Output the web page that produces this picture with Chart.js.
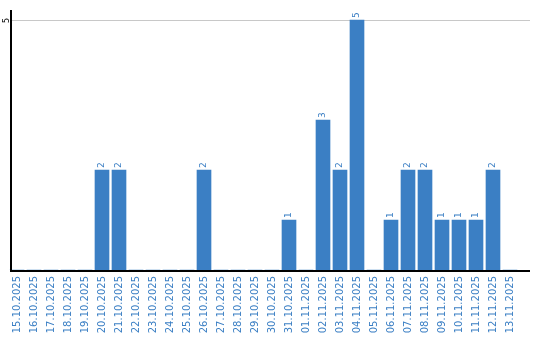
<!DOCTYPE html>
<html>
<head>
<meta charset="utf-8">
<script src="https://cdn.jsdelivr.net/npm/chart.js@4.4.1/dist/chart.umd.min.js"></script>
<style>
  body { margin: 0; background: #fff; }
  #wrap { width: 540px; height: 340px; }
</style>
</head>
<body>
<div id="wrap"><canvas id="chart" width="540" height="340"></canvas></div>
<script>
// datos del grafico
var dias = ['15.10.2025', '16.10.2025', '17.10.2025', '18.10.2025', '19.10.2025', '20.10.2025',
  '21.10.2025', '22.10.2025', '23.10.2025', '24.10.2025', '25.10.2025', '26.10.2025',
  '27.10.2025', '28.10.2025', '29.10.2025', '30.10.2025', '31.10.2025', '01.11.2025',
  '02.11.2025', '03.11.2025', '04.11.2025', '05.11.2025', '06.11.2025', '07.11.2025',
  '08.11.2025', '09.11.2025', '10.11.2025', '11.11.2025', '12.11.2025', '13.11.2025'];
var cantidades = [0, 0, 0, 0, 0, 2, 2, 0, 0, 0, 0, 2, 0, 0, 0, 0, 1, 0, 3, 2, 5, 0, 1, 2, 2, 1, 1, 1, 2, 0];
var ticksY = [5];

var azul = '#3b7fc4';

// Plugin para ejes, linea de 5 y etiquetas de valores
var extras = {
  id: 'extras',
  beforeDatasetsDraw: function(chart) {
    var ctx = chart.ctx, y = chart.scales.y, a = chart.chartArea;
    ctx.save();
    ctx.strokeStyle = '#c8c8c8';
    ctx.lineWidth = 1;
    ticksY.forEach(function(t) {
      var py = Math.round(y.getPixelForValue(t)) + 0.5;
      ctx.beginPath();
      ctx.moveTo(10, py);
      ctx.lineTo(530, py);
      ctx.stroke();
      ctx.save();
      ctx.translate(7, py);
      ctx.rotate(-Math.PI / 2);
      ctx.fillStyle = '#000';
      ctx.font = '8px "DejaVu Sans"';
      ctx.textAlign = 'center';
      ctx.textBaseline = 'middle';
      ctx.fillText(String(t), 0, 0);
      ctx.restore();
    });
    ctx.restore();
  },
  afterDatasetsDraw: function(chart) {
    var ctx = chart.ctx, a = chart.chartArea;
    var meta = chart.getDatasetMeta(0);
    ctx.save();
    ctx.fillStyle = azul;
    ctx.font = '9px "DejaVu Sans"';
    ctx.textAlign = 'left';
    ctx.textBaseline = 'middle';
    meta.data.forEach(function(bar, i) {
      if (!cantidades[i]) return;
      ctx.save();
      ctx.translate(bar.x, bar.y - 2);
      ctx.rotate(-Math.PI / 2);
      ctx.fillText(String(cantidades[i]), 0, 0);
      ctx.restore();
    });
    // ejes
    ctx.strokeStyle = '#000';
    ctx.lineWidth = 2;
    ctx.beginPath();
    ctx.moveTo(11, a.top);
    ctx.lineTo(11, a.bottom + 1);
    ctx.lineTo(530, a.bottom + 1);
    ctx.stroke();
    ctx.restore();
  }
};

new Chart(document.getElementById('chart'), {
  type: 'bar',
  data: {
    labels: dias,
    datasets: [{
      data: cantidades,
      backgroundColor: azul,
      barThickness: 14
    }]
  },
  options: {
    responsive: false,
    animation: false,
    events: [],
    layout: { padding: { left: 8.5, right: 21.5, top: 10, bottom: 0 } },
    plugins: { legend: { display: false }, tooltip: { enabled: false } },
    scales: {
      x: {
        grid: { display: false, drawTicks: false },
        border: { display: false },
        afterFit: function(scale) { scale.height = 70; },
        ticks: {
          autoSkip: false,
          minRotation: 90,
          maxRotation: 90,
          padding: 6,
          color: azul,
          font: { family: 'DejaVu Sans', size: 10 }
        }
      },
      y: {
        display: false,
        min: 0,
        max: 5.2
      }
    }
  },
  plugins: [extras]
});
</script>
</body>
</html>
